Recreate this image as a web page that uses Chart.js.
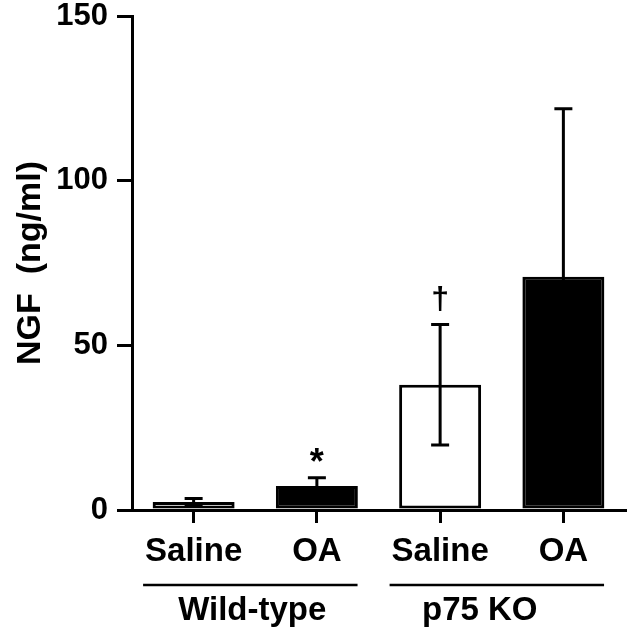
<!DOCTYPE html>
<html>
<head>
<meta charset="utf-8">
<script src="https://cdn.jsdelivr.net/npm/chart.js@4"></script>
<style>
  body { margin: 0; background: #fff; }
  canvas { display: block; }
</style>
</head>
<body>
<canvas id="ngfChart" width="631" height="640"></canvas>
<script>
// Dữ liệu
const treatments = ['Saline', 'OA', 'Saline', 'OA'];
const ngfMean = [2.4, 7.3, 38, 70.8];
const ngfErr = [1.1, 2.5, 18.3, 51];
const markers = ['', '*', '\u2020', ''];
const barFills = ['#ffffff', '#000000', '#ffffff', '#000000'];
const genotypes = ['Wild-type', 'p75 KO'];
const yTickStep = 50;
const yMax = 150;

const FONT = '"Liberation Sans", Arial, Helvetica, sans-serif';

// Vẽ thanh sai số và ký hiệu (*, †)
const errorBarPlugin = {
    id: 'errorBars',
    afterDatasetsDraw(chart) {
        const ctx = chart.ctx;
        const y = chart.scales.y;
        const meta = chart.getDatasetMeta(0);
        ctx.save();
        ctx.strokeStyle = '#000';
        ctx.lineWidth = 3;
        meta.data.forEach((bar, i) => {
            const x = bar.x;
            const top = y.getPixelForValue(ngfMean[i] + ngfErr[i]);
            const bot = y.getPixelForValue(Math.max(0, ngfMean[i] - ngfErr[i]));
            ctx.beginPath();
            ctx.moveTo(x, top); ctx.lineTo(x, bot);
            ctx.moveTo(x - 9, top); ctx.lineTo(x + 9, top);
            ctx.moveTo(x - 9, bot); ctx.lineTo(x + 9, bot);
            ctx.stroke();
            if (markers[i]) {
                ctx.fillStyle = '#000';
                ctx.textAlign = 'center';
                ctx.textBaseline = 'bottom';
                ctx.font = markers[i] === '*' ? 'bold 36px ' + FONT : 'bold 32px ' + FONT;
                ctx.fillText(markers[i], x, top - (markers[i] === '*' ? -4 : 8));
            }
        });
        ctx.restore();
    }
};

// Nhóm kiểu gen bên dưới trục X
const groupPlugin = {
    id: 'groups',
    afterDraw(chart) {
        const ctx = chart.ctx;
        const xs = chart.scales.x;
        const w = xs.getPixelForValue(1) - xs.getPixelForValue(0);
        ctx.save();
        ctx.strokeStyle = '#000';
        ctx.fillStyle = '#000';
        ctx.lineWidth = 2.5;
        ctx.font = 'bold 33px ' + FONT;
        ctx.textAlign = 'center';
        ctx.textBaseline = 'middle';
        genotypes.forEach((g, k) => {
            const x0 = xs.getPixelForValue(2 * k);
            const x1 = xs.getPixelForValue(2 * k + 1);
            ctx.beginPath();
            ctx.moveTo(x0 - 0.41 * w, 585);
            ctx.lineTo(x1 + 0.33 * w, 585);
            ctx.stroke();
            const shift = k === 0 ? -3 : -22;
            ctx.fillText(g, (x0 + x1) / 2 + shift, 611);
        });
        ctx.restore();
    }
};

const ctx = document.getElementById('ngfChart').getContext('2d');
new Chart(ctx, {
    type: 'bar',
    data: {
        labels: treatments,
        datasets: [{
            data: ngfMean,
            backgroundColor: barFills,
            borderColor: '#000',
            borderWidth: 3,
            borderSkipped: false,
            categoryPercentage: 1,
            barPercentage: 0.665
        }]
    },
    options: {
        responsive: false,
        animation: false,
        layout: { padding: { top: 16, right: 6, left: 0, bottom: 0 } },
        plugins: {
            legend: { display: false },
            tooltip: { enabled: false }
        },
        scales: {
            y: {
                min: 0,
                max: yMax,
                ticks: {
                    stepSize: yTickStep,
                    color: '#000',
                    padding: 9,
                    font: { family: FONT, size: 31, weight: 'bold', lineHeight: 1 }
                },
                grid: { drawOnChartArea: false, tickLength: 15, color: '#000', lineWidth: 3 },
                border: { color: '#000', width: 3 },
                title: {
                    display: true,
                    text: 'NGF  (ng/ml)',
                    color: '#000',
                    padding: { top: 10, bottom: 0 },
                    font: { family: FONT, size: 34, weight: 'bold' }
                },
                afterFit: s => { s.width = 132; s.paddingTop = 0; s.paddingBottom = 0; }
            },
            x: {
                ticks: {
                    color: '#000',
                    padding: 9,
                    font: { family: FONT, size: 33, weight: 'bold' }
                },
                grid: { offset: false, drawOnChartArea: false, tickLength: 13, color: '#000', lineWidth: 3 },
                border: { color: '#000', width: 3 },
                afterFit: s => { s.height = 130; }
            }
        }
    },
    plugins: [errorBarPlugin, groupPlugin]
});
</script>
</body>
</html>
